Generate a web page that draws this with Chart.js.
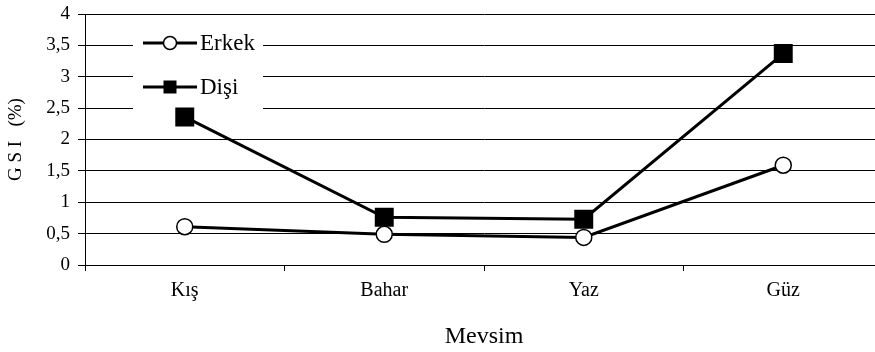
<!DOCTYPE html>
<html><head><meta charset="utf-8">
<script src="https://cdn.jsdelivr.net/npm/chart.js@4.4.1/dist/chart.umd.min.js"></script>
<style>
html,body{margin:0;padding:0;background:#fff;overflow:hidden;width:875px;height:352px}
#wrap{position:absolute;left:0;top:0;width:900px;height:352px}
</style></head>
<body><div id="wrap"><canvas id="c"></canvas></div>
<script>
const categories = ['Kış', 'Bahar', 'Yaz', 'Güz'];
const erkekValues = [0.61, 0.49, 0.44, 1.59];
const disiValues = [2.36, 0.76, 0.73, 3.37];
const yTickLabels = ['0', '0,5', '1', '1,5', '2', '2,5', '3', '3,5', '4'];
const seriesNames = ['Erkek', 'Dişi'];
const xTitle = 'Mevsim';
const yTitle = 'G S I   (%)';

const FONT = "'Liberation Serif', 'Times New Roman', serif";

const legendBox = {
  id: 'legendBox',
  beforeDatasetsDraw(chart) {
    const ctx = chart.ctx;
    ctx.save();
    ctx.fillStyle = '#fff';
    ctx.fillRect(133, 24, 130, 88);
    const rows = [
      {y: 43, name: seriesNames[0], style: 'circle'},
      {y: 87, name: seriesNames[1], style: 'rect'}
    ];
    rows.forEach(r => {
      ctx.strokeStyle = '#000';
      ctx.lineWidth = 3;
      ctx.beginPath();
      ctx.moveTo(143, r.y);
      ctx.lineTo(197, r.y);
      ctx.stroke();
      if (r.style === 'circle') {
        ctx.beginPath();
        ctx.arc(170, r.y, 6.5, 0, Math.PI * 2);
        ctx.fillStyle = '#fff';
        ctx.fill();
        ctx.lineWidth = 1.5;
        ctx.stroke();
      } else {
        ctx.fillStyle = '#000';
        ctx.fillRect(163.5, r.y - 6.5, 13, 13);
      }
      ctx.fillStyle = '#000';
      ctx.font = "23px " + FONT;
      ctx.textBaseline = 'middle';
      ctx.textAlign = 'left';
      ctx.fillText(r.name, 200, r.y + 1);
    });
    ctx.restore();
  }
};

new Chart(document.getElementById('c'), {
  type: 'line',
  data: {
    labels: categories,
    datasets: [
      {
        label: seriesNames[0],
        data: erkekValues,
        borderColor: '#000',
        borderWidth: 3,
        pointStyle: 'circle',
        pointRadius: 8,
        pointBorderWidth: 1.5,
        pointBackgroundColor: '#fff',
        pointBorderColor: '#000',
        tension: 0
      },
      {
        label: seriesNames[1],
        data: disiValues,
        borderColor: '#000',
        borderWidth: 3,
        pointStyle: 'rect',
        pointRadius: 13.4,
        pointBorderWidth: 0,
        pointBackgroundColor: '#000',
        pointBorderColor: '#000',
        tension: 0
      }
    ]
  },
  options: {
    responsive: true,
    maintainAspectRatio: false,
    animation: false,
    devicePixelRatio: 1,
    layout: {padding: {top: 14, right: 17, left: 0, bottom: 0}},
    plugins: {legend: {display: false}, tooltip: {enabled: false}},
    scales: {
      x: {
        offset: true,
        grid: {display: true, drawOnChartArea: false, offset: true, tickLength: 6, color: '#000', lineWidth: 1},
        border: {display: true, color: '#000', width: 1},
        ticks: {color: '#000', font: {family: FONT, size: 20}, padding: 8, maxRotation: 0},
        title: {display: true, text: xTitle, color: '#000', font: {family: FONT, size: 24}, padding: {top: 1, bottom: 1}},
        afterFit(scale) { scale.height = 87; }
      },
      y: {
        min: 0, max: 4,
        grid: {display: true, color: '#000', lineWidth: 1, tickLength: 7},
        border: {display: true, color: '#000', width: 1},
        ticks: {
          stepSize: 0.5, color: '#000', padding: 8,
          font: {family: FONT, size: 19, lineHeight: 0.6},
          callback: (v, i) => yTickLabels[i]
        },
        title: {display: true, text: yTitle, color: '#000', font: {family: FONT, size: 19}, padding: {top: 5, bottom: 0}},
        afterFit(scale) { scale.width = 85; }
      }
    }
  },
  plugins: [legendBox]
});
</script>
</body></html>
